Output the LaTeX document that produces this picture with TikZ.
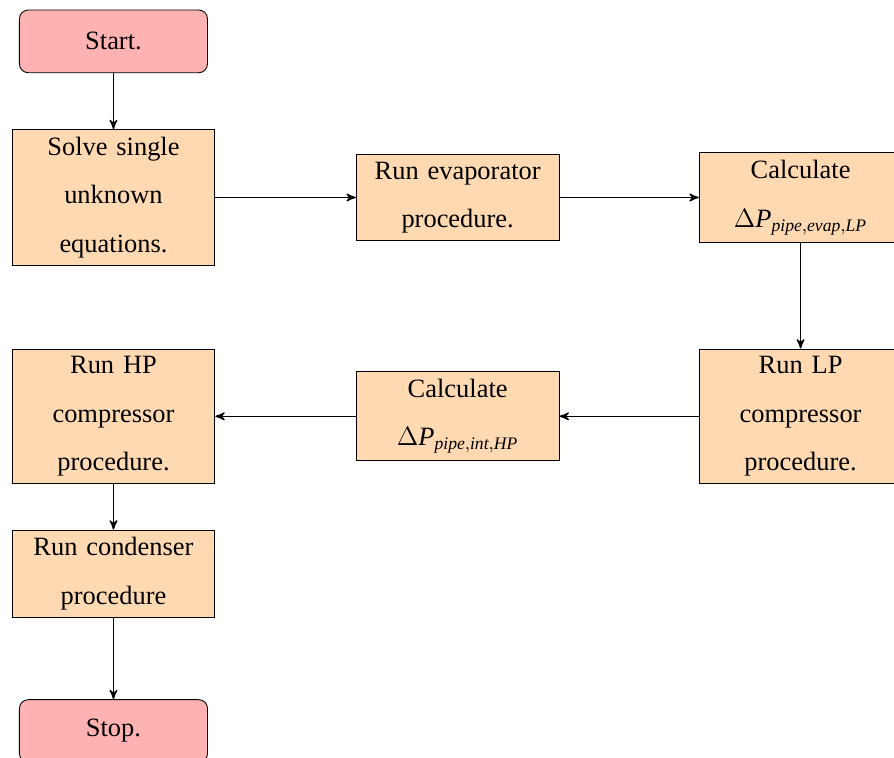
\documentclass[tikz,border=0pt]{standalone}
\usepackage{fontspec}
\setmainfont{Liberation Serif}
\usepackage{amsmath}
\usepackage{tikz}
\usetikzlibrary{shapes}
\usetikzlibrary{arrows}
\tikzset{
	startstop/.style={rectangle,rounded corners,draw=black,fill=red!30,
		minimum width=3cm,minimum height=1cm,font=\fontsize{12}{22}\selectfont},
	process/.style={rectangle,draw=black,fill=orange!30,text width=3cm,
		align=center,minimum height=1cm,font=\fontsize{12}{22}\selectfont}
}
\newcommand{\dpipe}[1]{$\Delta\mathit{P}_{\mathit{#1}}$}

\begin{document}
\begin{tikzpicture}[->,>=stealth',semithick]
	\useasboundingbox (0,0) rectangle (14.26,-12.09);
	\node [startstop,thin] (1) at (1.81,-0.66) {Start.};
	\node [process,thin] (2) at (1.81,-3.15) {Solve single unknown equations.};
	\node [process,thin] (3) at (7.30,-3.15) {Run evaporator procedure.};
	\node [process,thin] (4) at (12.77,-3.15) {Calculate \dpipe{pipe,evap,LP}};
	\node [process,thin] (5) at (12.77,-6.64) {Run LP compressor procedure.};
	\node [process,thin] (6) at (7.30,-6.64) {Calculate \dpipe{pipe,int,HP}};
	\node [process,thin] (7) at (1.81,-6.64) {Run HP compressor procedure.};
	\node [process,thin] (8) at (1.81,-9.15) {Run condenser procedure};
	\node [startstop,thin] (9) at (1.81,-11.66) {Stop.};
	\draw (1) -- (2);
	\draw (2) -- (3);
	\draw (3) -- (4);
	\draw (4) -- (5);
	\draw (5) -- (6);
	\draw (6) -- (7);
	\draw (7) -- (8);
	\draw (8) -- (9);
\end{tikzpicture}
\end{document}
